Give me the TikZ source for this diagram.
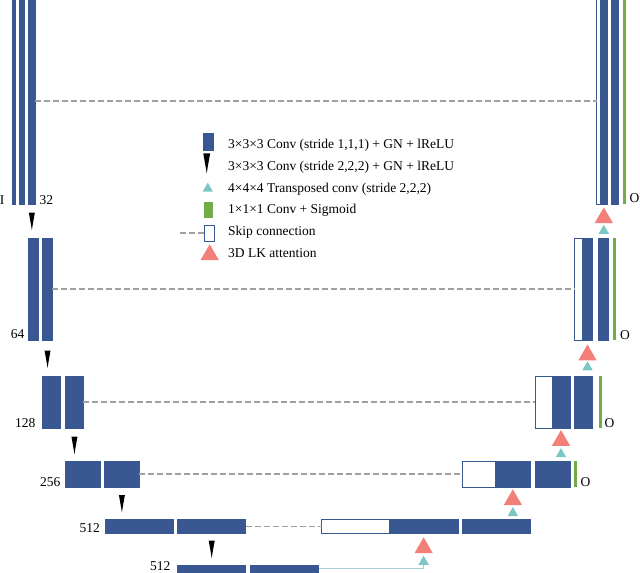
\documentclass[tikz,border=0pt]{standalone}
\usepackage{fontspec}
\setmainfont{Liberation Serif}
\usetikzlibrary{shapes.geometric, positioning}

\definecolor{convblue}{RGB}{57,87,145}
\definecolor{sigmgreen}{RGB}{112,173,71}
\definecolor{attnred}{RGB}{242,128,120}
\definecolor{upcyan}{RGB}{122,199,196}
\definecolor{skipgray}{RGB}{160,160,160}
\definecolor{linkblue}{RGB}{170,205,215}

\begin{document}
\begin{tikzpicture}[x=1pt, y=-1pt,
  blk/.style={anchor=north west, inner sep=0pt, outer sep=0pt, line width=0.6pt},
  conv/.style={blk, draw=convblue, fill=convblue},
  skipbox/.style={blk, draw=convblue, fill=white},
  sigm/.style={blk, fill=sigmgreen},
  attn/.style={regular polygon, regular polygon sides=3, minimum size=21pt, inner sep=0pt, outer sep=0pt, fill=attnred},
  upconv/.style={regular polygon, regular polygon sides=3, minimum size=12pt, inner sep=0pt, outer sep=0pt, fill=upcyan},
  skipline/.style={skipgray, dash pattern=on 6pt off 3pt, line width=1.4pt},
  lbl/.style={inner sep=0pt, font=\fontsize{13.5}{16}\selectfont},
  downconv/.pic={\fill[black] (-3,0) -- (3,0) -- (0.7,13) -- (0,17.5) -- (-0.7,13) -- cycle;}
]
\useasboundingbox (0,0) rectangle (640,573);

% Encoder
\node[conv, minimum width=3pt, minimum height=206pt] (e1a) at (12.3,-2) {};
\node[conv, minimum width=5pt, minimum height=206pt] (e1b) at (19.3,-2) {};
\node[conv, minimum width=6.3pt, minimum height=206pt] (e1c) at (28.7,-2) {};

\node[conv, minimum width=9.7pt, minimum height=102pt] (e2a) at (28.3,238) {};
\node[conv, minimum width=9.7pt, minimum height=102pt] (e2b) at (42.7,238) {};

\node[conv, minimum width=17.5pt, minimum height=52pt] (e3a) at (42.7,376) {};
\node[conv, minimum width=17.5pt, minimum height=52pt] (e3b) at (65.7,376) {};

\node[conv, minimum width=34.4pt, minimum height=26pt] (e4a) at (65.7,461) {};
\node[conv, minimum width=34.4pt, minimum height=26pt] (e4b) at (104.7,461) {};

\node[conv, minimum width=68pt, minimum height=14pt] (e5a) at (105,519.3) {};
\node[conv, minimum width=68pt, minimum height=14pt] (e5b) at (177.7,519.3) {};

\node[conv, minimum width=68pt, minimum height=14pt] (e6a) at (177.7,565) {};
\node[conv, minimum width=68pt, minimum height=14pt] (e6b) at (250.7,565) {};

\pic at ([yshift=-8.7pt]e1c.south) {downconv};
\pic at ([yshift=-10.5pt]e2b.south) {downconv};
\pic at ([yshift=-8.7pt]e3b.south) {downconv};
\pic at ([yshift=-8pt]e4b.south) {downconv};
\pic at ([yshift=-7.4pt]e5b.south) {downconv};

% Decoder
\node[skipbox, minimum width=67.6pt, minimum height=14pt] (d5s) at (321.7,519.3) {};
\node[conv, minimum width=68.7pt, minimum height=14pt] (d5a) at (389.3,519.3) {};
\node[conv, minimum width=68pt, minimum height=14pt] (d5b) at (462,519.3) {};

\node[skipbox, minimum width=33.4pt, minimum height=26pt] (d4s) at (462.3,461) {};
\node[conv, minimum width=34.3pt, minimum height=26pt] (d4a) at (495.7,461) {};
\node[conv, minimum width=34.7pt, minimum height=26pt] (d4b) at (535.3,461) {};
\node[sigm, minimum width=2.7pt, minimum height=26pt] (g4) at (574.3,461) {};

\node[skipbox, minimum width=16.7pt, minimum height=52pt] (d3s) at (535.3,376) {};
\node[conv, minimum width=18pt, minimum height=52pt] (d3a) at (552,376) {};
\node[conv, minimum width=17.3pt, minimum height=52pt] (d3b) at (574.7,376) {};
\node[sigm, minimum width=3pt, minimum height=52pt] (g3) at (599,376) {};

\node[skipbox, minimum width=8pt, minimum height=102pt] (d2s) at (574.7,238) {};
\node[conv, minimum width=9.6pt, minimum height=102pt] (d2a) at (582.7,238) {};
\node[conv, minimum width=10.3pt, minimum height=102pt] (d2b) at (598,238) {};
\node[sigm, minimum width=2.7pt, minimum height=102pt] (g2) at (613,238) {};

\node[skipbox, minimum width=3.6pt, minimum height=206pt] (d1s) at (596.7,-2) {};
\node[conv, minimum width=7pt, minimum height=206pt] (d1a) at (600.3,-2) {};
\node[conv, minimum width=6.7pt, minimum height=206pt] (d1b) at (611.3,-2) {};
\node[sigm, minimum width=3.3pt, minimum height=206pt] (g1) at (622.7,-2) {};

% Upsampling + attention
\node[attn, below=4pt of d5a] (a5) {};
\node[upconv, below=2.7pt of a5] (u5) {};
\node[attn, below=2.3pt of d4a] (a4) {};
\node[upconv, below=2pt of a4] (u4) {};
\node[attn, below=2pt of d3a] (a3) {};
\node[upconv, below=2.3pt of a3] (u3) {};
\node[attn, below=4.5pt of d2a] (a2) {};
\node[upconv, below=1pt of a2] (u2) {};
\node[attn, below=3.3pt of d1a] (a1) {};
\node[upconv, below=1.7pt of a1] (u1) {};

% Skip connections
\draw[skipline] (e1c.east) -- (d1s.west);
\draw[skipline] (e2b.east) -- (d2s.west);
\draw[skipline] (e3b.east) -- (d3s.west);
\draw[skipline] (e4b.east) -- (d4s.west);
\draw[skipline] (e5b.east) -- (d5s.west);

\coordinate (e6out) at ([yshift=-3.3pt]e6b.north east);
\draw[linkblue, line width=0.9pt] (e6out) -| (u5.south);

% Labels
\node[lbl, anchor=base west] (lI) at (-0.3,204) {I};
\node[lbl, anchor=base west] (l32) at (39.5,204) {32};
\node[lbl, anchor=base east] (l64) at (24.5,338.5) {64};
\node[lbl, anchor=base east] (l128) at (35.5,427) {128};
\node[lbl, anchor=base east] (l256) at (60.5,486.5) {256};
\node[lbl, anchor=base east] (l512) at (100,532.7) {512};
\node[lbl, anchor=base east] (l512b) at (170.5,570.5) {512};
\node[lbl, anchor=base west] (o1) at (629.5,202) {O};
\node[lbl, anchor=base west] (o2) at (620,339.5) {O};
\node[lbl, anchor=base west] (o3) at (604.5,427) {O};
\node[lbl, anchor=base west] (o4) at (580.5,486.7) {O};

% Legend
\node[conv, minimum width=10pt, minimum height=17.4pt] (lg1) at (203.3,133.3) {};
\pic[scale=1.15] at (206.7,153.3) {downconv};
\node[upconv, anchor=south] (lg3) at (207.8,191.7) {};
\node[sigm, minimum width=9.3pt, minimum height=16pt] (lg4) at (204,201.7) {};
\node[skipbox, minimum width=10pt, minimum height=16pt] (lg5) at (204.3,225) {};
\coordinate (lg5in) at (180,233);
\draw[skipline] (lg5in) -- (lg5.west);
\node[attn, anchor=south] (lg6) at (209.7,260) {};

\node[lbl, anchor=base west] (lt1) at (228,148.5) {3×3×3 Conv (stride 1,1,1) + GN + lReLU};
\node[lbl, anchor=base west] (lt2) at (228,170.3) {3×3×3 Conv (stride 2,2,2) + GN + lReLU};
\node[lbl, anchor=base west] (lt3) at (228,192.1) {4×4×4 Transposed conv (stride 2,2,2)};
\node[lbl, anchor=base west] (lt4) at (228,213.9) {1×1×1 Conv + Sigmoid};
\node[lbl, anchor=base west] (lt5) at (228,235.7) {Skip connection};
\node[lbl, anchor=base west] (lt6) at (228,257.5) {3D LK attention};
\end{tikzpicture}
\end{document}
